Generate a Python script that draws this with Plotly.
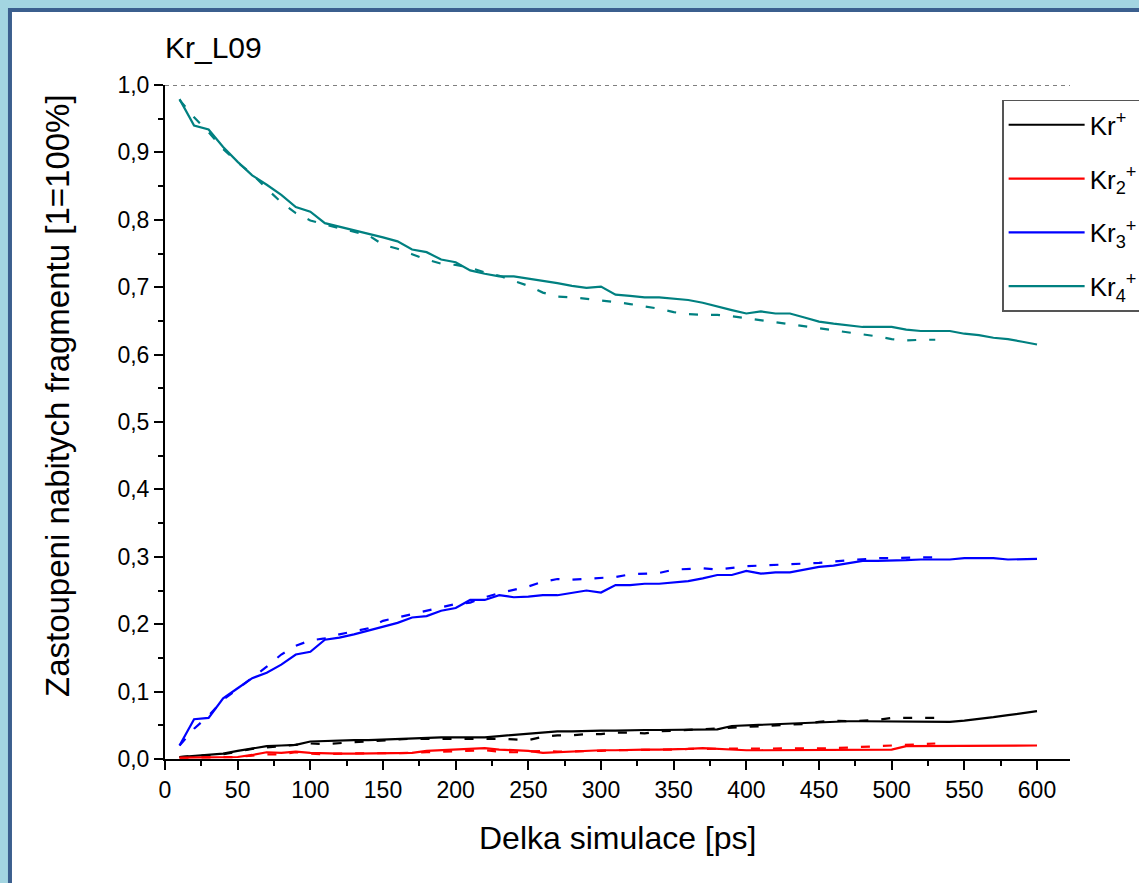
import plotly.graph_objects as go

# ---------------- data ----------------
time_ps = [10, 20, 30, 40, 50, 60, 70, 80, 90, 100, 110, 120, 130, 140, 150, 160, 170, 180, 190, 200,
           210, 220, 230, 240, 250, 260, 270, 280, 290, 300, 310, 320, 330, 340, 350, 360, 370, 380, 390, 400,
           410, 420, 430, 440, 450, 460, 470, 480, 490, 500, 510, 520, 530, 540, 550, 560, 570, 580, 590, 600]
time_ps_dashed = time_ps[:53]

kr1_solid = [0.003, 0.005, 0.006, 0.008, 0.012, 0.016, 0.019, 0.020, 0.021, 0.026, 0.027, 0.027, 0.028, 0.028, 0.029,
             0.030, 0.031, 0.032, 0.032, 0.032, 0.032, 0.032, 0.034, 0.036, 0.037, 0.040, 0.041, 0.041, 0.042, 0.042,
             0.042, 0.043, 0.043, 0.043, 0.043, 0.043, 0.043, 0.044, 0.049, 0.050, 0.051, 0.051, 0.052, 0.053, 0.055,
             0.055, 0.056, 0.056, 0.056, 0.056, 0.055, 0.055, 0.055, 0.055, 0.057, 0.059, 0.062, 0.065, 0.068, 0.071]
kr1_dashed = [0.003, 0.004, 0.005, 0.007, 0.011, 0.015, 0.017, 0.019, 0.021, 0.023, 0.022, 0.024, 0.025, 0.026, 0.028,
              0.029, 0.030, 0.030, 0.031, 0.031, 0.031, 0.030, 0.030, 0.029, 0.028, 0.033, 0.035, 0.035, 0.037, 0.037,
              0.039, 0.039, 0.038, 0.041, 0.042, 0.043, 0.044, 0.045, 0.046, 0.047, 0.048, 0.050, 0.050, 0.052, 0.055,
              0.057, 0.056, 0.057, 0.058, 0.061, 0.061, 0.061, 0.061]

kr2_solid = [0.002, 0.002, 0.002, 0.003, 0.003, 0.006, 0.010, 0.009, 0.011, 0.009, 0.008, 0.008, 0.008, 0.008, 0.008,
             0.008, 0.009, 0.012, 0.013, 0.013, 0.014, 0.016, 0.014, 0.013, 0.012, 0.009, 0.010, 0.012, 0.012, 0.013,
             0.013, 0.014, 0.014, 0.014, 0.014, 0.015, 0.016, 0.015, 0.013, 0.013, 0.013, 0.013, 0.013, 0.013, 0.013,
             0.013, 0.013, 0.013, 0.013, 0.014, 0.019, 0.019, 0.019, 0.019, 0.019, 0.019, 0.020, 0.020, 0.020, 0.020]
kr2_dashed = [0.002, 0.002, 0.002, 0.002, 0.003, 0.005, 0.007, 0.007, 0.010, 0.008, 0.007, 0.008, 0.008, 0.008, 0.009,
              0.009, 0.009, 0.010, 0.011, 0.012, 0.012, 0.013, 0.011, 0.010, 0.011, 0.012, 0.011, 0.011, 0.012, 0.012,
              0.013, 0.013, 0.013, 0.014, 0.014, 0.015, 0.015, 0.016, 0.016, 0.015, 0.016, 0.016, 0.016, 0.016, 0.016,
              0.016, 0.017, 0.018, 0.019, 0.021, 0.021, 0.022, 0.023]

kr3_solid = [0.020, 0.059, 0.061, 0.090, 0.105, 0.120, 0.128, 0.140, 0.155, 0.159, 0.177, 0.180, 0.185, 0.191, 0.196,
             0.202, 0.210, 0.212, 0.220, 0.224, 0.236, 0.236, 0.243, 0.240, 0.241, 0.243, 0.243, 0.246, 0.250, 0.247,
             0.258, 0.258, 0.260, 0.260, 0.262, 0.264, 0.268, 0.273, 0.273, 0.279, 0.275, 0.277, 0.277, 0.281, 0.285,
             0.287, 0.291, 0.294, 0.294, 0.294, 0.295, 0.296, 0.296, 0.296, 0.298, 0.298, 0.298, 0.296, 0.297, 0.297]
kr3_dashed = [0.020, 0.045, 0.064, 0.088, 0.104, 0.120, 0.137, 0.155, 0.168, 0.176, 0.179, 0.185, 0.190, 0.194, 0.205,
              0.210, 0.216, 0.221, 0.226, 0.230, 0.232, 0.240, 0.246, 0.251, 0.256, 0.263, 0.267, 0.266, 0.267, 0.269,
              0.270, 0.274, 0.275, 0.276, 0.281, 0.282, 0.283, 0.281, 0.284, 0.286, 0.287, 0.288, 0.288, 0.289, 0.291,
              0.293, 0.295, 0.297, 0.298, 0.298, 0.299, 0.299, 0.299]

kr4_solid = [0.979, 0.940, 0.934, 0.908, 0.886, 0.866, 0.852, 0.837, 0.819, 0.812, 0.795, 0.790, 0.785, 0.780, 0.774,
             0.768, 0.756, 0.752, 0.741, 0.737, 0.725, 0.720, 0.716, 0.716, 0.713, 0.709, 0.706, 0.702, 0.699, 0.701,
             0.689, 0.687, 0.685, 0.685, 0.683, 0.681, 0.677, 0.671, 0.666, 0.661, 0.664, 0.661, 0.661, 0.655, 0.649,
             0.646, 0.643, 0.641, 0.641, 0.641, 0.637, 0.635, 0.635, 0.635, 0.631, 0.629, 0.625, 0.623, 0.619, 0.615]
kr4_dashed = [0.978, 0.952, 0.930, 0.905, 0.885, 0.868, 0.846, 0.826, 0.810, 0.799, 0.793, 0.788, 0.783, 0.777, 0.763,
              0.757, 0.749, 0.741, 0.735, 0.733, 0.729, 0.722, 0.717, 0.710, 0.702, 0.692, 0.686, 0.685, 0.683, 0.681,
              0.678, 0.675, 0.672, 0.668, 0.663, 0.660, 0.659, 0.659, 0.657, 0.654, 0.652, 0.649, 0.646, 0.642, 0.640,
              0.637, 0.634, 0.631, 0.627, 0.623, 0.621, 0.622, 0.622]

series_names = ["Kr<sup>+</sup>", "Kr<sub>2</sub><sup>+</sup>", "Kr<sub>3</sub><sup>+</sup>", "Kr<sub>4</sub><sup>+</sup>"]
series_colors = ["#000000", "#ff0000", "#0000ff", "#008080"]
solid_series = [kr1_solid, kr2_solid, kr3_solid, kr4_solid]
dashed_series = [kr1_dashed, kr2_dashed, kr3_dashed, kr4_dashed]

x_ticks = [0, 50, 100, 150, 200, 250, 300, 350, 400, 450, 500, 550, 600]
y_ticks = [0.0, 0.1, 0.2, 0.3, 0.4, 0.5, 0.6, 0.7, 0.8, 0.9, 1.0]

title_text = "Kr_L09"
x_title = "Delka simulace [ps]"
y_title = "Zastoupeni nabitych fragmentu [1=100%]"

FONT = "Liberation Sans, Arial, sans-serif"

fig = go.Figure()

for i in range(4):
    fig.add_trace(go.Scatter(
        x=time_ps_dashed, y=dashed_series[i], mode="lines",
        line=dict(color=series_colors[i], width=2.2, dash="9px,13px"),
        showlegend=False, hoverinfo="skip"))

for i in range(4):
    fig.add_trace(go.Scatter(
        x=time_ps, y=solid_series[i], mode="lines", name=series_names[i],
        legendgroup="g%d" % i,
        line=dict(color=series_colors[i], width=2.2)))

# page background panel with frame
fig.add_shape(type="rect", xref="paper", yref="paper",
              x0=-0.1713, x1=1.09, y0=-0.2, y1=1.1113,
              line=dict(color="#3b5f8e", width=4), fillcolor="white", layer="below")
# dotted top line at 1.0
fig.add_shape(type="line", xref="paper", yref="y", x0=0, x1=1, y0=1.0, y1=1.0,
              line=dict(color="black", width=1, dash="4px,4px"))

fig.add_annotation(text=title_text, xref="paper", yref="paper", x=-0.002, y=1.055,
                   xanchor="left", yanchor="middle", showarrow=False,
                   font=dict(family=FONT, size=30, color="black"))
fig.add_annotation(text=x_title, xref="paper", yref="paper", x=0.5, y=-0.117,
                   xanchor="center", yanchor="middle", showarrow=False,
                   font=dict(family=FONT, size=32, color="black"))
fig.add_annotation(text=y_title, xref="paper", yref="paper", x=-0.119, y=0.539,
                   xanchor="center", yanchor="middle", showarrow=False, textangle=-90,
                   font=dict(family=FONT, size=33, color="black"))

fig.update_layout(
    width=1139, height=883,
    margin=dict(l=165, r=69, t=85, b=124, autoexpand=False),
    paper_bgcolor="#a3d5e1",
    plot_bgcolor="white",
    separators=", ",
    font=dict(family=FONT, color="black"),
    legend=dict(x=0.925, y=0.978, xanchor="left", yanchor="top",
                bgcolor="white", bordercolor="#555555", borderwidth=1.5,
                font=dict(family=FONT, size=26, color="black"),
                itemwidth=76, tracegroupgap=17),
    xaxis=dict(range=[0, 622.7], tickvals=x_ticks, showgrid=False, zeroline=False,
               showline=True, linecolor="black", linewidth=2,
               ticks="outside", ticklen=9, tickwidth=2, tickcolor="black",
               tickfont=dict(family=FONT, size=23),
               minor=dict(dtick=25, ticks="outside", ticklen=5, tickwidth=2, tickcolor="black")),
    yaxis=dict(range=[0, 1.0], tickvals=y_ticks, tickformat=".1f", showgrid=False, zeroline=False,
               showline=True, linecolor="black", linewidth=2,
               ticks="outside", ticklen=9, tickwidth=2, tickcolor="black",
               tickfont=dict(family=FONT, size=23),
               minor=dict(dtick=0.05, ticks="outside", ticklen=5, tickwidth=2, tickcolor="black")),
)

fig.write_html("out.html", config={"displayModeBar": False},
               post_script="document.body.style.margin='0';")
